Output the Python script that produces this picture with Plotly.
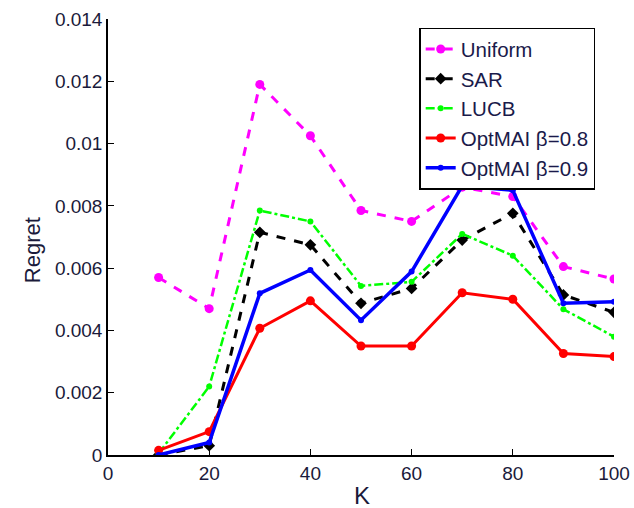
import plotly.graph_objects as go

K = [10, 20, 30, 40, 50, 60, 70, 80, 90, 100]
uniform = [0.0057, 0.0047, 0.0119, 0.01025, 0.00785, 0.0075, 0.0086, 0.0083, 0.00605, 0.00565]
sar = [0.0, 0.0003, 0.00715, 0.00675, 0.00487, 0.00535, 0.0069, 0.00776, 0.00514, 0.00458]
lucb = [0.00005, 0.0022, 0.00785, 0.0075, 0.00543, 0.00556, 0.0071, 0.0064, 0.00468, 0.0038]
opt08 = [0.00015, 0.00075, 0.00407, 0.00495, 0.0035, 0.0035, 0.00521, 0.005, 0.00326, 0.00316]
opt09 = [0.0, 0.0004, 0.00519, 0.00594, 0.00433, 0.00589, 0.00864, 0.0085, 0.00487, 0.00492]
x_ticks = [0, 20, 40, 60, 80, 100]
y_ticks = [0, 0.002, 0.004, 0.006, 0.008, 0.01, 0.012, 0.014]
y_ticktext = ["0", "0.002", "0.004", "0.006", "0.008", "0.01", "0.012", "0.014"]

fig = go.Figure()
fig.add_trace(go.Scatter(x=K, y=uniform, name="Uniform", mode="lines+markers",
                         line=dict(color="#FF00FF", width=3, dash="dash"),
                         marker=dict(symbol="circle", size=9, color="#FF00FF")))
fig.add_trace(go.Scatter(x=K, y=sar, name="SAR", mode="lines+markers",
                         line=dict(color="black", width=3, dash="dash"),
                         marker=dict(symbol="diamond", size=9, color="black")))
fig.add_trace(go.Scatter(x=K, y=lucb, name="LUCB", mode="lines+markers",
                         line=dict(color="#00FF00", width=2.5, dash="dashdot"),
                         marker=dict(symbol="circle", size=6, color="#00FF00")))
fig.add_trace(go.Scatter(x=K, y=opt08, name="OptMAI β=0.8", mode="lines+markers",
                         line=dict(color="#FF0000", width=3),
                         marker=dict(symbol="circle", size=9, color="#FF0000")))
fig.add_trace(go.Scatter(x=K, y=opt09, name="OptMAI β=0.9", mode="lines+markers",
                         line=dict(color="#0000FF", width=3.5),
                         marker=dict(symbol="circle", size=6, color="#0000FF")))

font = "Liberation Sans, Arial, sans-serif"
txt = "#1a1a3a"
fig.update_layout(
    width=634, height=508,
    margin=dict(l=108, r=20, t=19, b=53),
    paper_bgcolor="white", plot_bgcolor="white",
    font=dict(family=font, size=18, color=txt),
    showlegend=True,
    legend=dict(x=0.615, y=0.98, xanchor="left", yanchor="top",
                bgcolor="white", bordercolor="black", borderwidth=1.5,
                font=dict(size=20.5, color="#1a1a4a"), tracegroupgap=0,
                itemwidth=30),
    xaxis=dict(range=[0, 100], tickvals=x_ticks,
               ticks="inside", ticklen=6, tickcolor="black",
               showline=True, linecolor="black", linewidth=1.5,
               showgrid=False, zeroline=False, ticklabeloverflow="allow",
               automargin=False,
               tickfont=dict(size=19, color=txt)),
    yaxis=dict(range=[0, 0.014], tickvals=y_ticks, ticktext=y_ticktext,
               ticks="inside", ticklen=6, tickcolor="black",
               showline=True, linecolor="black", linewidth=1.5,
               showgrid=False, zeroline=False, ticklabeloverflow="allow",
               automargin=False,
               tickfont=dict(size=19, color=txt)),
    annotations=[
        dict(text="Regret", xref="paper", yref="paper", x=-0.150, y=0.47,
             textangle=-90, showarrow=False, xanchor="center", yanchor="middle",
             font=dict(size=22, color=txt)),
        dict(text="K", xref="paper", yref="paper", x=0.502, y=-0.092,
             showarrow=False, xanchor="center", yanchor="middle",
             font=dict(size=24, color=txt)),
    ],
)
fig.write_html("out.html", config={"displayModeBar": False},
               post_script="document.body.style.margin='0';document.body.style.overflow='hidden';")
